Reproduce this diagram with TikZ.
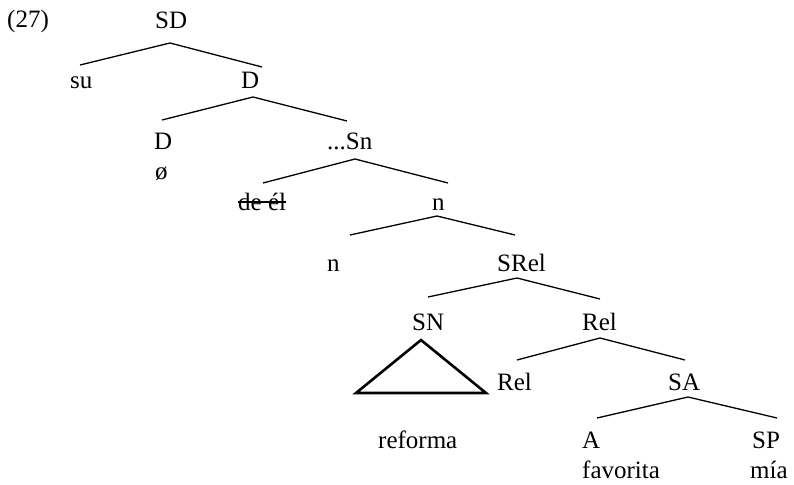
\documentclass[tikz,border=0pt]{standalone}
\usepackage{fontspec}
\setmainfont{Liberation Serif}
\begin{document}
\begin{tikzpicture}[x=1pt,y=-1pt,
  lbl/.style={anchor=base west,inner sep=0pt,font=\fontsize{25}{30}\selectfont},
  br/.style={line width=1.3pt,black},
  tri/.style={line width=2.6pt,black,line join=miter}]
\useasboundingbox (0,0) rectangle (794,484);
% labels
\node[lbl] (ex) at (7,28) {(27)};
\node[lbl] (SD) at (155,29) {SD};
\node[lbl] (su) at (70,89) {su};
\node[lbl] (D1) at (241,89) {D};
\node[lbl] (D2) at (154,149) {D};
\node[lbl] (null) at (155,179) {ø};
\node[lbl] (Sn) at (327,149) {...Sn};
\node[lbl] (deel) at (238,210) {de él};
\node[lbl] (n1) at (432,210) {n};
\node[lbl] (n2) at (327,271) {n};
\node[lbl] (SRel) at (497,271) {SRel};
\node[lbl] (SN) at (412,330) {SN};
\node[lbl] (Rel1) at (582,330) {Rel};
\node[lbl] (Rel2) at (497,390) {Rel};
\node[lbl] (SA) at (668,390) {SA};
\node[lbl] (reforma) at (378,448) {reforma};
\node[lbl] (A) at (582,448) {A};
\node[lbl] (fav) at (582,478) {favorita};
\node[lbl] (SP) at (752,448) {SP};
\node[lbl] (mia) at (750,478) {mía};
% strike-through
\draw[br] ([yshift=8pt]deel.base west) -- ([yshift=8pt]deel.base east);
% branch points
\coordinate (aSD) at (170,43);   \coordinate (lSD) at (80,65);   \coordinate (rSD) at (262,67);
\coordinate (aD) at (253,97);    \coordinate (lD) at (162,120);  \coordinate (rD) at (347,121);
\coordinate (aSn) at (355,159);  \coordinate (lSn) at (263,183); \coordinate (rSn) at (448,183);
\coordinate (an) at (437,216);   \coordinate (ln) at (350,235);  \coordinate (rn) at (515,235);
\coordinate (aSR) at (517,278);  \coordinate (lSR) at (428,297); \coordinate (rSR) at (600,299);
\coordinate (aR) at (600,338);   \coordinate (lR) at (517,360);  \coordinate (rR) at (685,360);
\coordinate (aSA) at (688,397);  \coordinate (lSA) at (597,418); \coordinate (rSA) at (777,418);
\draw[br] (lSD) -- (aSD) -- (rSD);
\draw[br] (lD) -- (aD) -- (rD);
\draw[br] (lSn) -- (aSn) -- (rSn);
\draw[br] (ln) -- (an) -- (rn);
\draw[br] (lSR) -- (aSR) -- (rSR);
\draw[br] (lR) -- (aR) -- (rR);
\draw[br] (lSA) -- (aSA) -- (rSA);
% triangle
\coordinate (tA) at (421,340); \coordinate (tL) at (356,393); \coordinate (tR) at (486,393);
\draw[tri] (tA) -- (tL) -- (tR) -- cycle;
\end{tikzpicture}
\end{document}
